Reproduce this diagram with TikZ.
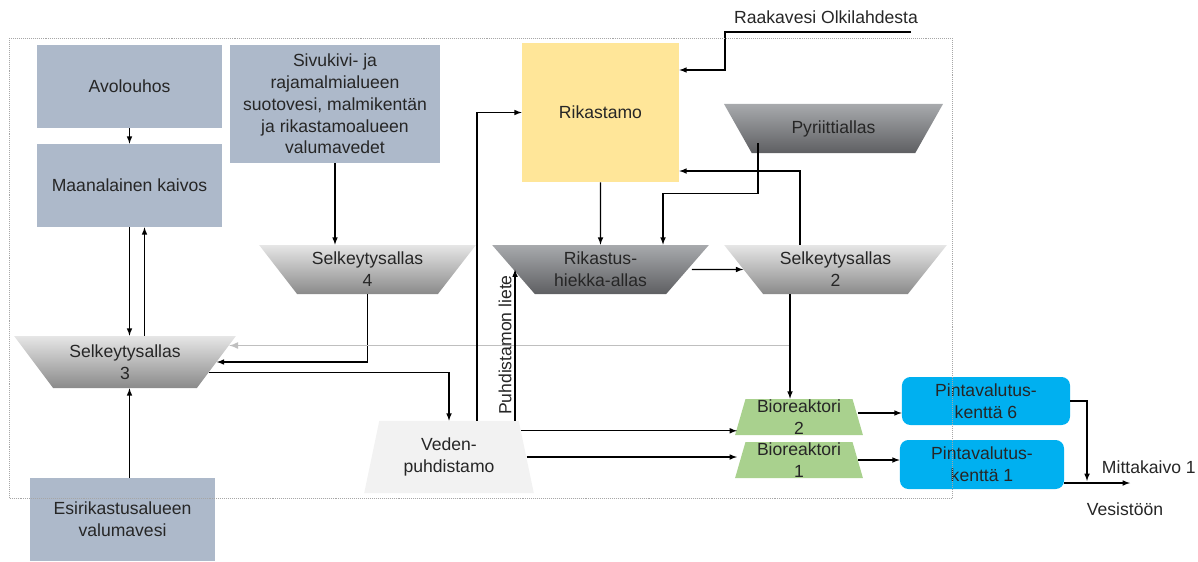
\documentclass[tikz,border=0pt]{standalone}
\usepackage{fontspec}
\setmainfont{Liberation Sans}
\usepackage{pgf,tikz}
\usetikzlibrary{arrows,calc,shapes.geometric}

\definecolor{boxgray}{HTML}{ADB9CA}
\definecolor{plantyellow}{HTML}{FFE699}
\definecolor{fieldblue}{HTML}{00B0F0}
\definecolor{biogreen}{HTML}{A9D18E}
\definecolor{cleangray}{HTML}{F2F2F2}
\definecolor{poollight}{HTML}{E6E6E6}
\definecolor{poolmid}{HTML}{8A8A8A}
\definecolor{darktop}{HTML}{A8AAAD}
\definecolor{darkbottom}{HTML}{5E5F62}

\tikzset{
  every node/.style={font=\fontsize{12.5}{15.5}\selectfont, text=black!85, align=center},
  area/.style={rectangle, fill=boxgray, inner sep=0pt},
  pool/.style={trapezium, trapezium stretches=true, trapezium left angle=131,
    trapezium right angle=131, inner sep=0pt, minimum height=1.225cm},
  lightpool/.style={pool, top color=poollight, bottom color=poolmid},
  darkpool/.style={pool, top color=darktop, bottom color=darkbottom},
  reactor/.style={trapezium, trapezium stretches=true, trapezium left angle=76.7,
    trapezium right angle=76.7, fill=biogreen, inner sep=0pt,
    minimum width=3.2cm, minimum height=0.9cm},
  field/.style={rectangle, rounded corners=6pt, fill=fieldblue, inner sep=0pt},
  flow/.style={line width=0.8pt, -latex},
  backflow/.style={line width=1.2pt, draw=black!25, -latex},
}

\begin{document}
\begin{tikzpicture}[x=0.025cm, y=-0.025cm]
\useasboundingbox (0,0) rectangle (1198,561);
\coordinate[] (raakaend) at (911,32);
\coordinate[] (raakabend) at (725,32);
\coordinate[] (s2out) at (790,294);
\coordinate[] (kaivo) at (1087,481);
\coordinate[] (outlet) at (1130,483);

\node[area, minimum width=4.625cm, minimum height=2.075cm] (avo) at (129.5,86.5) {Avolouhos};
\node[area, minimum width=4.625cm, minimum height=2.075cm] (maan) at (129.5,185.5) {Maanalainen kaivos};
\node[area, minimum width=5.25cm, minimum height=2.95cm] (sivu) at (335,104) {Sivukivi- ja\\rajamalmialueen\\suotovesi, malmikentän\\ja rikastamoalueen\\valumavedet};
\node[area, minimum width=4.625cm, minimum height=2.075cm] (esi) at (122.5,519.5) {Esirikastusalueen\\valumavesi};
\node[rectangle, fill=plantyellow, inner sep=0pt, minimum width=3.925cm, minimum height=3.475cm] (rik) at (600.5,112.5) {Rikastamo};
\node[lightpool, minimum width=5.425cm] (sel4) at (367.5,269.5) {Selkeytysallas\\4};
\node[lightpool, minimum width=5.55cm, minimum height=1.3cm] (sel3) at (125,362) {Selkeytysallas\\3};
\node[lightpool, minimum width=5.575cm] (sel2) at (835.5,269.5) {Selkeytysallas\\2};
\node[darkpool, minimum width=5.425cm] (hiekka) at (600.5,269.5) {Rikastus-\\hiekka-allas};
\node[darkpool, minimum width=5.475cm] (pyr) at (833.5,128.5) {Pyriittiallas};
\node[trapezium, trapezium stretches=true, trapezium left angle=75.6, trapezium right angle=75.6, fill=cleangray, inner sep=0pt, minimum width=4.25cm, minimum height=1.8cm] (veden) at (449,457) {Veden-\\puhdistamo};
\node[reactor] (bio2) at (799,417) {Bioreaktori\\2};
\node[reactor] (bio1) at (799,460) {Bioreaktori\\1};
\node[field, minimum width=4.2cm, minimum height=1.2cm] (pinta6) at (986,401) {Pintavalutus-\\kenttä 6};
\node[field, minimum width=4.1cm, minimum height=1.225cm] (pinta1) at (982,464.5) {Pintavalutus-\\kenttä 1};
\node (raaka) at (826,17) {Raakavesi Olkilahdesta};
\node[anchor=west] (mitta) at (1097,467) {Mittakaivo 1};
\node (vesi) at (1125,509) {Vesistöön};

\draw[flow] (avo) -- (maan);
\draw[flow] (maan.south) -- (maan.south |- sel3.north);
\draw[flow] ([xshift=0.375cm]maan.south |- sel3.north) -- ([xshift=0.375cm]maan.south);
\draw[flow] (esi.north -| maan.south) -- (maan.south |- sel3.south);
\draw[flow] (sivu) -- (sivu |- sel4.north);
\draw[flow] (sel4.south) |- (sel3.east);
\draw[flow] (sel3.-7) -| (veden.north);
\draw[backflow] (s2out |- sel3.9) -- (sel3.9);
\draw[flow] ([xshift=0.7cm]veden.north) |- (rik.west);
\draw[flow] ([xshift=1.65cm]veden.north) -- ([xshift=1.65cm]veden.north |- hiekka.west)
  node[midway, sloped, above, inner sep=2pt] {Puhdistamon liete};
\draw[flow] (rik) -- (hiekka);
\draw[flow] ([xshift=-1.8875cm,yshift=0.25cm]pyr.south) -- ++(0,50) -| ([xshift=1.5625cm]hiekka.north);
\draw[flow] ([xshift=-0.8875cm]sel2.north) |- ([yshift=-1.4625cm]rik.east);
\draw[flow] (raakaend) -- (raakabend) |- ([yshift=1.0625cm]rik.east);
\draw[flow] ([xshift=0.1cm]hiekka.east) -- (sel2.west);
\draw[flow] (s2out) -- (s2out |- bio2.north);
\draw[flow] (veden.20) -- ([xshift=-0.075cm]veden.20 -| bio2.west);
\draw[flow] (veden.east) -- ([xshift=-0.075cm]veden.east -| bio1.west);
\draw[flow] ([yshift=0.1cm]bio2.east) -- ([yshift=0.1cm]bio2.east -| pinta6.west);
\draw[flow] (bio1.east) -- (bio1.east -| pinta1.west);
\draw[flow] (pinta6.east) -| (kaivo);
\draw[flow] (pinta1.east |- outlet) -- (outlet);
%\draw[densely dotted] (0,0) rectangle (1198,561);
\draw[densely dotted, black!35] (9,38) rectangle (952,498);
\end{tikzpicture}
\end{document}
